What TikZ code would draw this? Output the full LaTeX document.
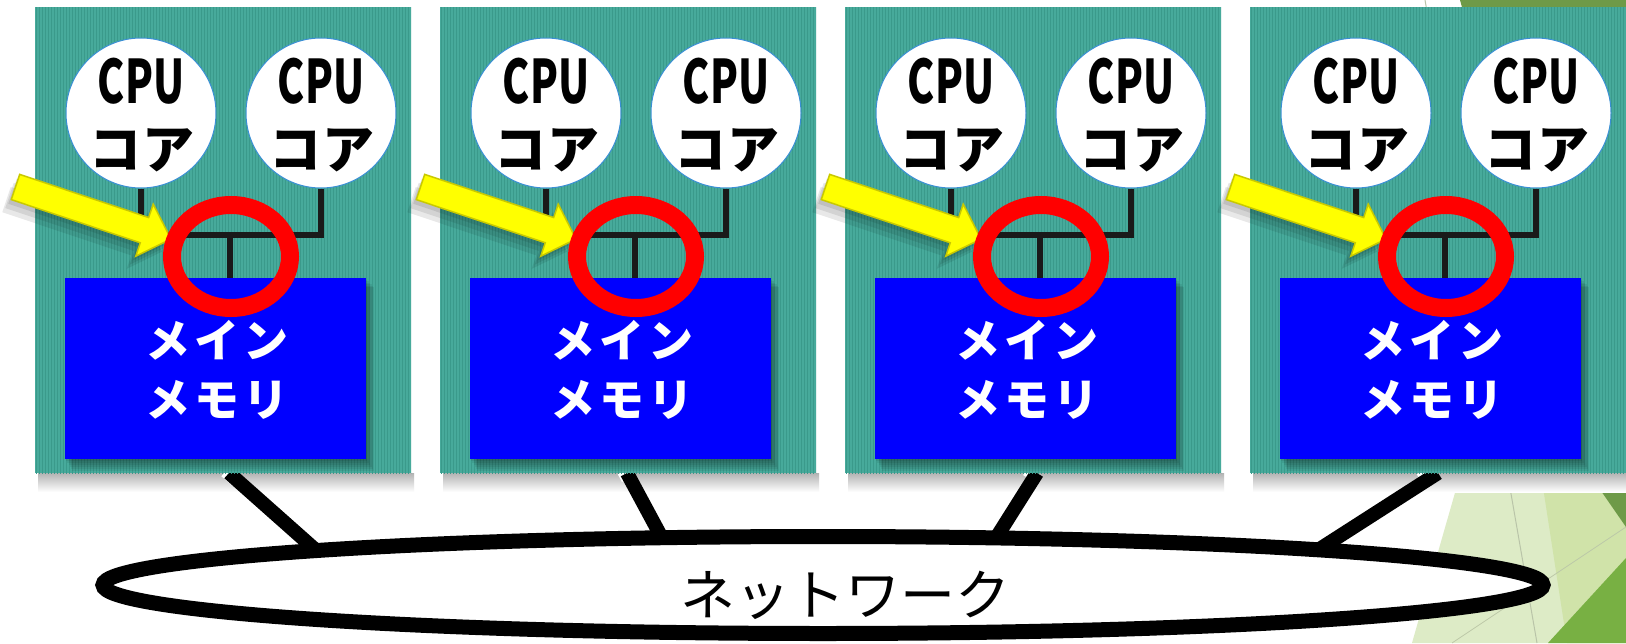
\documentclass[tikz,border=0pt]{standalone}
\usepackage{fontspec}
\newfontfamily\jp{Noto Sans CJK JP}
\usetikzlibrary{shapes.geometric,patterns,calc}
\definecolor{tealP}{HTML}{47AA9B}
\definecolor{tealS}{HTML}{3A9A8B}
\definecolor{memB}{HTML}{0000FF}
\definecolor{ringR}{HTML}{FF0000}
\definecolor{arrY}{HTML}{FFFF00}
\definecolor{arrE}{HTML}{C9C900}
\definecolor{cpuE}{HTML}{3A8FD5}
\definecolor{busK}{HTML}{1A1A1A}
\definecolor{paleG}{HTML}{DDEBC6}
\definecolor{midG}{HTML}{D0E3A9}
\definecolor{oliveG}{HTML}{6E9A48}
\definecolor{brightG}{HTML}{78B043}
\definecolor{facetL}{HTML}{B9C4A8}
\tikzset{
  panelbox/.style={fill=tealP},
  cpubox/.style={circle, fill=white, draw=cpuE, line width=1, minimum size=150, inner sep=0},
  cputop/.style={anchor=base, inner sep=0, font=\jp\bfseries\fontsize{60}{66}\selectfont},
  cpubot/.style={anchor=base, inner sep=0, font=\jp\bfseries\fontsize{52}{58}\selectfont},
  membox/.style={rectangle, fill=memB, minimum width=301, minimum height=181, inner sep=0},
  memtext/.style={anchor=base, inner sep=0, text=white, font=\jp\bfseries\fontsize{45}{58}\selectfont},
  busline/.style={draw=busK, line width=6, line join=miter},
  ringbox/.style={ellipse, draw=ringR, line width=18, minimum width=118, minimum height=103, inner sep=0},
  netbox/.style={ellipse, draw=black, fill=white, line width=15, minimum width=1440, minimum height=97, inner sep=0},
  nettext/.style={anchor=base, inner sep=0, font=\jp\fontsize{55}{60}\selectfont},
  netlink/.style={draw=black, line width=14},
  netlinkhi/.style={draw=white, line width=14},
  arrowshape/.style={fill=arrY, draw=arrE, line width=1.5, line join=miter},
  arrowshadow/.style={fill=black, opacity=0.09},
}
\newcommand{\arrowpoly}{(0,-13.3) -- (136,-13.3) -- (136,-27.5) -- (164,0) -- (136,27.5) -- (136,13.3) -- (0,13.3) -- cycle}
\begin{document}
\begin{tikzpicture}[x=1pt,y=-1pt]
\useasboundingbox (0,0) rectangle (1626,643);
\fill[white] (0,0) rectangle (1626,643);
% background facets
\fill[paleG] (1412,643) -- (1596,0) -- (1626,0) -- (1626,643) -- cycle;
\fill[midG] (1567,643) -- (1468,0) -- (1626,0) -- (1626,643) -- cycle;
\draw[paleG!85!black, line width=0.8] (1452,643) -- (1626,527);
\fill[oliveG] (1460,0) -- (1626,0) -- (1626,527) -- (1590,475) -- cycle;
\fill[brightG] (1548,643) -- (1626,558) -- (1626,643) -- cycle;
\draw[facetL, line width=1] (1425,0) -- (1537,643);
% panel shadows
\foreach \i in {0,1,2,3} {
  \pgfmathsetmacro{\xo}{35+405*\i}
  \shade[top color=black!30, bottom color=white] (\xo+3,473) rectangle (\xo+379,492);
}
% network links
\coordinate (mA) at (229,473);  \coordinate (nA) at (318,552);
\coordinate (mB) at (627,473);  \coordinate (nB) at (662,538);
\coordinate (mC) at (1037,473); \coordinate (nC) at (996,538);
\coordinate (mD) at (1438,473); \coordinate (nD) at (1318,550);
\foreach \a in {A,B,C,D} {
  \draw[netlinkhi] ($(m\a)+(-3,-2)$) -- ($(m\a)!0.12!(n\a)+(-3,-2)$);
  \draw[netlink] (m\a) -- (n\a);
}
% network
\node[netbox] (net) at (823,585) {};
\node[nettext] (nettxt) at (845,615) {ネットワーク};
% panels
\foreach \i in {0,1,2,3} {
  \pgfmathsetmacro{\xo}{35+405*\i}
  \fill[panelbox] (\xo,7) rectangle (\xo+376,473);
  \fill[pattern=vertical lines, pattern color=tealS] (\xo,7) rectangle (\xo+376,473);
  \foreach \k in {1,...,6} {
    \fill[black, opacity=0.07] (\xo+30+\k*1.2, 278+\k*1.5) rectangle (\xo+331+\k*1.4, 459+\k*2);
  }
  \node[membox] (mem\i) at (\xo+180.5,368.5) {};
  \node[memtext] (memt\i) at (\xo+182,357) {メ\hspace{4pt}イ\hspace{4pt}ン};
  \node[memtext] (memb\i) at (\xo+182,416) {メ\hspace{4pt}モ\hspace{4pt}リ};
  \node[cpubox] (cpuL\i) at (\xo+106,113) {};
  \node[cpubox] (cpuR\i) at (\xo+286,113) {};
  \node[cputop] (cpuLa\i) at (\xo+106,103) {\scalebox{0.68}[1]{CPU}};
  \node[cputop] (cpuRa\i) at (\xo+286,103) {\scalebox{0.68}[1]{CPU}};
  \node[cpubot] (cpuLb\i) at (\xo+107,168) {コ\hspace{2pt}ア};
  \node[cpubot] (cpuRb\i) at (\xo+287,168) {コ\hspace{2pt}ア};
  \coordinate (bj\i) at (\xo+195,235);
  \draw[busline] (cpuL\i.south) |- (bj\i) -| (cpuR\i.south);
  \draw[busline] (bj\i) -- (bj\i |- mem\i.north);
}
% arrows and rings
\foreach \i in {0,1,2,3} {
  \pgfmathsetmacro{\xo}{35+405*\i}
  \foreach \d in {3,6,9} {
    \begin{scope}[shift={(\xo-19.5-\d,187+\d*1.4)}, rotate=-18.5]
      \fill[arrowshadow] \arrowpoly;
    \end{scope}
  }
  \begin{scope}[shift={(\xo-19.5,187)}, rotate=-18.5]
    \filldraw[arrowshape] \arrowpoly;
  \end{scope}
  \node[ringbox] (ring\i) at (\xo+196,256.5) {};
}
\end{tikzpicture}
\end{document}
